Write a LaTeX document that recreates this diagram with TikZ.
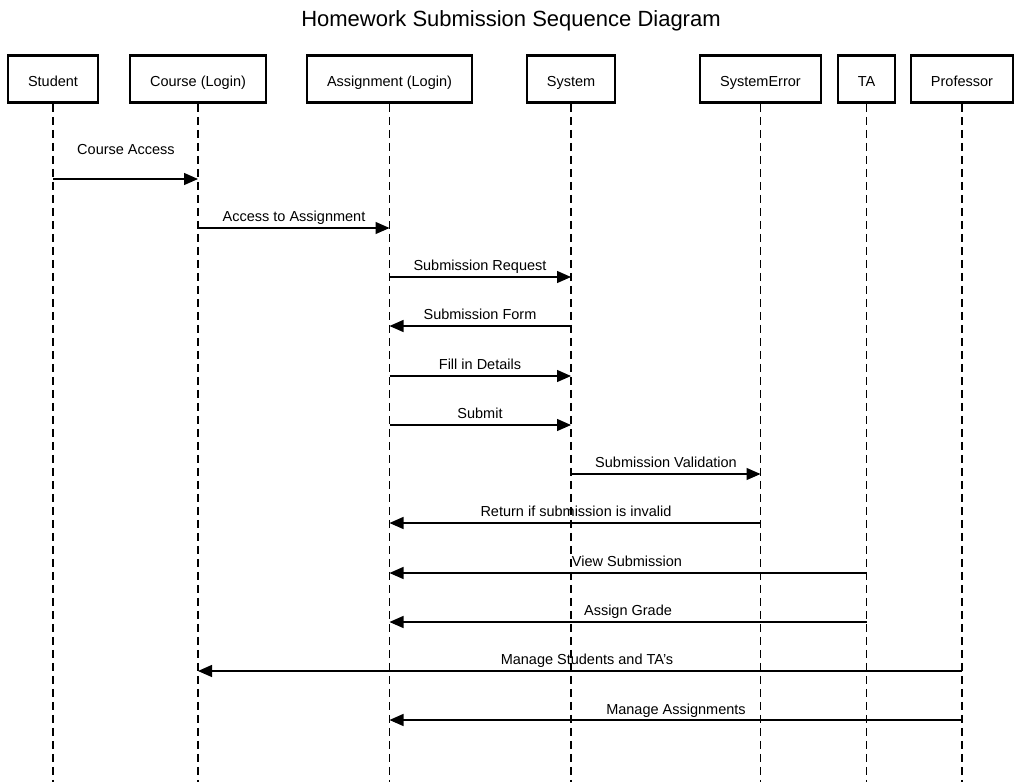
\documentclass[tikz,border=0pt]{standalone}
\usepackage{fontspec}
\setmainfont{Liberation Sans}
\usetikzlibrary{arrows.meta}
\begin{document}
\begin{tikzpicture}[x=1pt,y=-1pt,
  actor/.style={draw=black,line width=2.6pt,fill=white,minimum height=47pt,inner sep=0pt,text height=15pt,text depth=0pt,font=\fontsize{14.5}{16}\selectfont},
  life/.style={black,line width=1.3pt,dash pattern=on 8pt off 5pt},
  msg/.style={black,line width=1.3pt,-{Triangle[length=14pt,width=12pt]}},
  lbl/.style={font=\fontsize{14.5}{16}\selectfont,inner sep=0pt,anchor=base}]
\useasboundingbox (0,0) rectangle (1021,782);
\node[font=\fontsize{22}{24}\selectfont,anchor=base] (title) at (511,26) {Homework Submission Sequence Diagram};
\node[actor,minimum width=90pt] (stu) at (53,79) {Student};
\node[actor,minimum width=136pt] (crs) at (198,79) {Course (Login)};
\node[actor,minimum width=165pt] (asg) at (389.5,79) {Assignment (Login)};
\node[actor,minimum width=88pt] (sys) at (571,79) {System};
\node[actor,minimum width=121pt] (err) at (760.5,79) {SystemError};
\node[actor,minimum width=57pt] (ta) at (866.5,79) {TA};
\node[actor,minimum width=102pt] (prof) at (962,79) {Professor};
\foreach \n in {stu,crs,asg,sys,err,ta,prof}{
  \coordinate (\n-end) at (\n.south |- 0,782);
  \draw[life] (\n.south) -- (\n-end);
}
\draw[msg] (stu.south |- 0,179) -- (crs.south |- 0,179);
\node[lbl] (l1) at (126,154) {Course Access};
\draw[msg] (crs.south |- 0,228) -- (asg.south |- 0,228);
\node[lbl] (l2) at (294,221) {Access to Assignment};
\draw[msg] (asg.south |- 0,277) -- (sys.south |- 0,277);
\node[lbl] (l3) at (480,270) {Submission Request};
\draw[msg] (sys.south |- 0,326) -- (asg.south |- 0,326);
\node[lbl] (l4) at (480,319) {Submission Form};
\draw[msg] (asg.south |- 0,376) -- (sys.south |- 0,376);
\node[lbl] (l5) at (480,369) {Fill in Details};
\draw[msg] (asg.south |- 0,425) -- (sys.south |- 0,425);
\node[lbl] (l6) at (480,418) {Submit};
\draw[msg] (sys.south |- 0,474) -- (err.south |- 0,474);
\node[lbl] (l7) at (666,467) {Submission Validation};
\draw[msg] (err.south |- 0,523) -- (asg.south |- 0,523);
\node[lbl] (l8) at (576,516) {Return if submission is invalid};
\draw[msg] (ta.south |- 0,573) -- (asg.south |- 0,573);
\node[lbl] (l9) at (627,566) {View Submission};
\draw[msg] (ta.south |- 0,622) -- (asg.south |- 0,622);
\node[lbl] (l10) at (628,615) {Assign Grade};
\draw[msg] (prof.south |- 0,671) -- (crs.south |- 0,671);
\node[lbl] (l11) at (587,664) {Manage Students and TA's};
\draw[msg] (prof.south |- 0,720) -- (asg.south |- 0,720);
\node[lbl] (l12) at (676,714) {Manage Assignments};
\end{tikzpicture}
\end{document}
